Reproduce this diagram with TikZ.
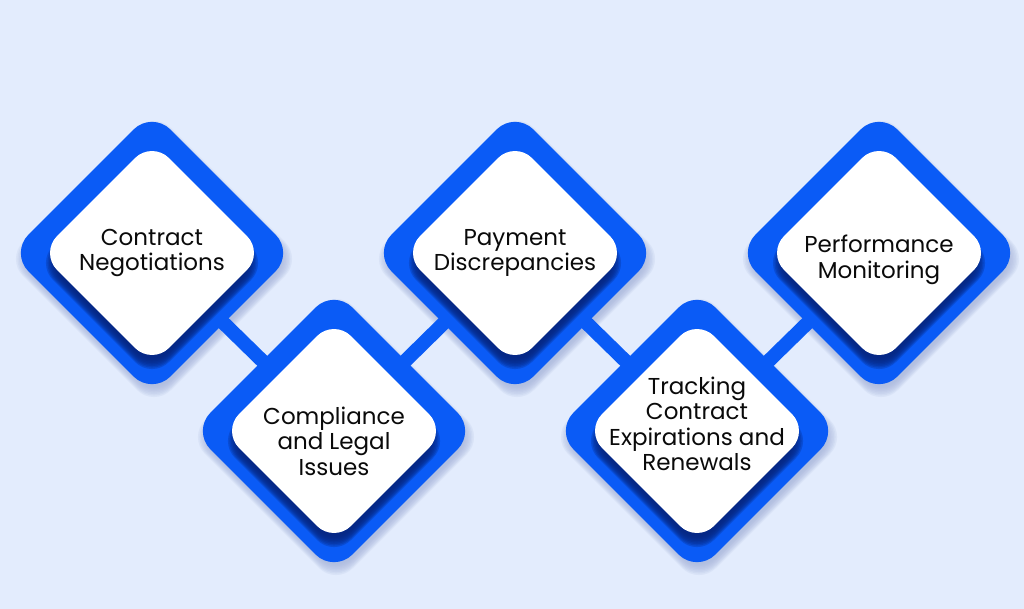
\documentclass[tikz,border=0pt]{standalone}
\usepackage{fontspec}
\setmainfont{Poppins}
\usetikzlibrary{shapes.geometric,calc}
\definecolor{bgc}{HTML}{E3ECFD}
\definecolor{bluec}{HTML}{0A5BF6}
\definecolor{navyc}{HTML}{05257F}
\definecolor{txtc}{HTML}{0A0A0A}
\pgfdeclarelayer{bglayer}
\pgfdeclarelayer{barlayer}
\pgfsetlayers{bglayer,barlayer,main}
\tikzset{
  outerdia/.style={diamond, aspect=1, inner sep=0pt, minimum width=284pt, minimum height=284pt, fill=bluec, rounded corners=26pt},
  innerdia/.style={diamond, aspect=1, inner sep=0pt, minimum width=224pt, minimum height=224pt, fill=white, rounded corners=24pt},
  label/.style={align=center, text=txtc, font=\fontsize{23}{25.5}\selectfont, inner sep=0pt},
  bar/.style={line width=14pt, bluec},
}
\newcommand{\diashadow}[5]{% x, y, halfdiag, color, opacity
  \foreach \k in {0,...,7}{
    \fill[#4, fill opacity=#5, rounded corners=24pt]
      ($(#1,#2)+(0,-#3-6+\k*1.5)$) -- ($(#1,#2)+(#3+6-\k*1.5,0)$) -- ($(#1,#2)+(0,#3+6-\k*1.5)$) -- ($(#1,#2)+(-#3-6+\k*1.5,0)$) -- cycle;
  }
}
\begin{document}
\begin{tikzpicture}[x=1pt,y=-1pt]
\begin{pgfonlayer}{bglayer}
  \fill[bgc] (0,0) rectangle (1024,609);
\end{pgfonlayer}
\useasboundingbox (0,0) rectangle (1024,609);

\foreach \i/\x/\y in {1/152/253, 2/334/431, 3/515/253, 4/697/431, 5/879/253}{
  \begin{pgfonlayer}{bglayer}
    \diashadow{\x+2}{\y+6}{142}{navyc!30!bgc}{0.14}
  \end{pgfonlayer}
  \node[outerdia] (o\i) at (\x,\y) {};
  \diashadow{\x}{\y+10}{110}{navyc}{0.27}
  \node[innerdia] (n\i) at (\x,\y) {};
}

\begin{pgfonlayer}{barlayer}
  \draw[bar] (o1.center) -- (o2.center);
  \draw[bar] (o2.center) -- (o3.center);
  \draw[bar] (o3.center) -- (o4.center);
  \draw[bar] (o4.center) -- (o5.center);
\end{pgfonlayer}

\node[label] (t1) at (152,253) {Contract\\Negotiations};
\node[label] (t2) at (334,441) {Compliance\\and Legal\\Issues};
\node[label] (t3) at (515,253) {Payment\\Discrepancies};
\node[label] (t4) at (697,424) {Tracking\\Contract\\Expirations and\\Renewals};
\node[label] (t5) at (879,260) {Performance\\Monitoring};
\end{tikzpicture}
\end{document}
